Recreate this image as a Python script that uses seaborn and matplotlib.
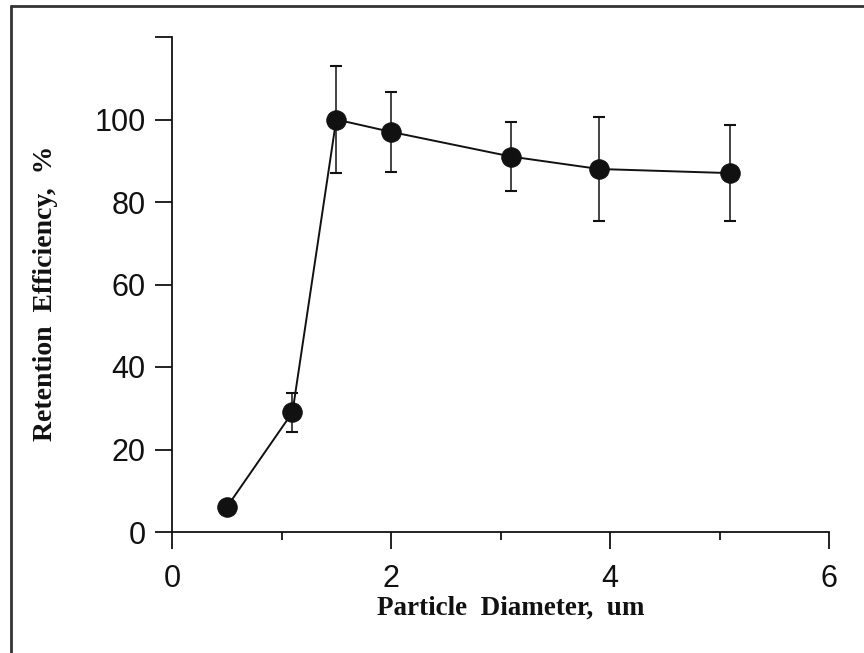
import matplotlib
matplotlib.use("Agg")
import matplotlib.pyplot as plt
from matplotlib.lines import Line2D
import seaborn as sns
import pandas as pd

diameter = [0.5, 1.1, 1.5, 2.0, 3.1, 3.9, 5.1]
retention = [6.0, 29.0, 100.0, 97.0, 91.0, 88.0, 87.0]
error = [0.0, 4.7, 13.0, 9.7, 8.4, 12.5, 11.6]

x_major = [0, 2, 4, 6]
x_minor = [1, 3, 5]
y_major = [0, 20, 40, 60, 80, 100, 120]
y_labels = ["0", "20", "40", "60", "80", "100", ""]

sns.set_style("ticks")
plt.rcParams['font.family'] = ['Liberation Sans', 'DejaVu Sans']

df = pd.DataFrame({"d": diameter, "r": retention, "e": error})

fig = plt.figure(figsize=(8.64, 6.53), dpi=100)
ax = fig.add_axes([172 / 864, 1 - 532 / 653, (829 - 172) / 864, (532 - 37) / 653])

ink = "#111111"
ax.errorbar(df["d"], df["r"], yerr=df["e"], fmt="none", ecolor=ink,
            elinewidth=1.1, capsize=4.5, capthick=1.5, zorder=2)
sns.lineplot(data=df, x="d", y="r", ax=ax, color=ink, linewidth=1.4,
             marker="o", markersize=14, markeredgecolor=ink,
             markerfacecolor=ink, zorder=3, legend=False)

ax.set_xlim(0, 6)
ax.set_ylim(0, 120)
ax.set_xticks(x_major)
ax.set_xticks(x_minor, minor=True)
ax.set_xticklabels([str(v) for v in x_major])
ax.set_yticks(y_major)
ax.set_yticklabels(y_labels)

sns.despine(ax=ax)
for s in ["left", "bottom"]:
    ax.spines[s].set_linewidth(1.3)
    ax.spines[s].set_color(ink)

ax.tick_params(axis="both", which="major", length=12, width=1.3, color=ink,
               labelsize=22, labelcolor=ink, direction="out")
ax.tick_params(axis="x", which="major", pad=11)
ax.tick_params(axis="y", which="major", pad=7)
ax.tick_params(axis="x", which="minor", length=6, width=1.3, color=ink)

serif = ['Liberation Serif', 'DejaVu Serif']
ax.set_xlabel("Particle  Diameter,  um", family=serif, fontweight="bold",
              fontsize=19.5, color=ink)
ax.set_ylabel("Retention  Efficiency,  %", family=serif, fontweight="bold",
              fontsize=20, color=ink)
ax.xaxis.set_label_coords(0.516, -0.128)
ax.yaxis.set_label_coords(-0.1735, 0.483)

# page frame (left and top edges)
fig.add_artist(Line2D([11 / 864, 11 / 864], [0, 1 - 6 / 653],
                      transform=fig.transFigure, color="#333333", linewidth=2))
fig.add_artist(Line2D([11 / 864, 1], [1 - 6 / 653, 1 - 6 / 653],
                      transform=fig.transFigure, color="#333333", linewidth=2))

fig.savefig("out.png", dpi=100)
